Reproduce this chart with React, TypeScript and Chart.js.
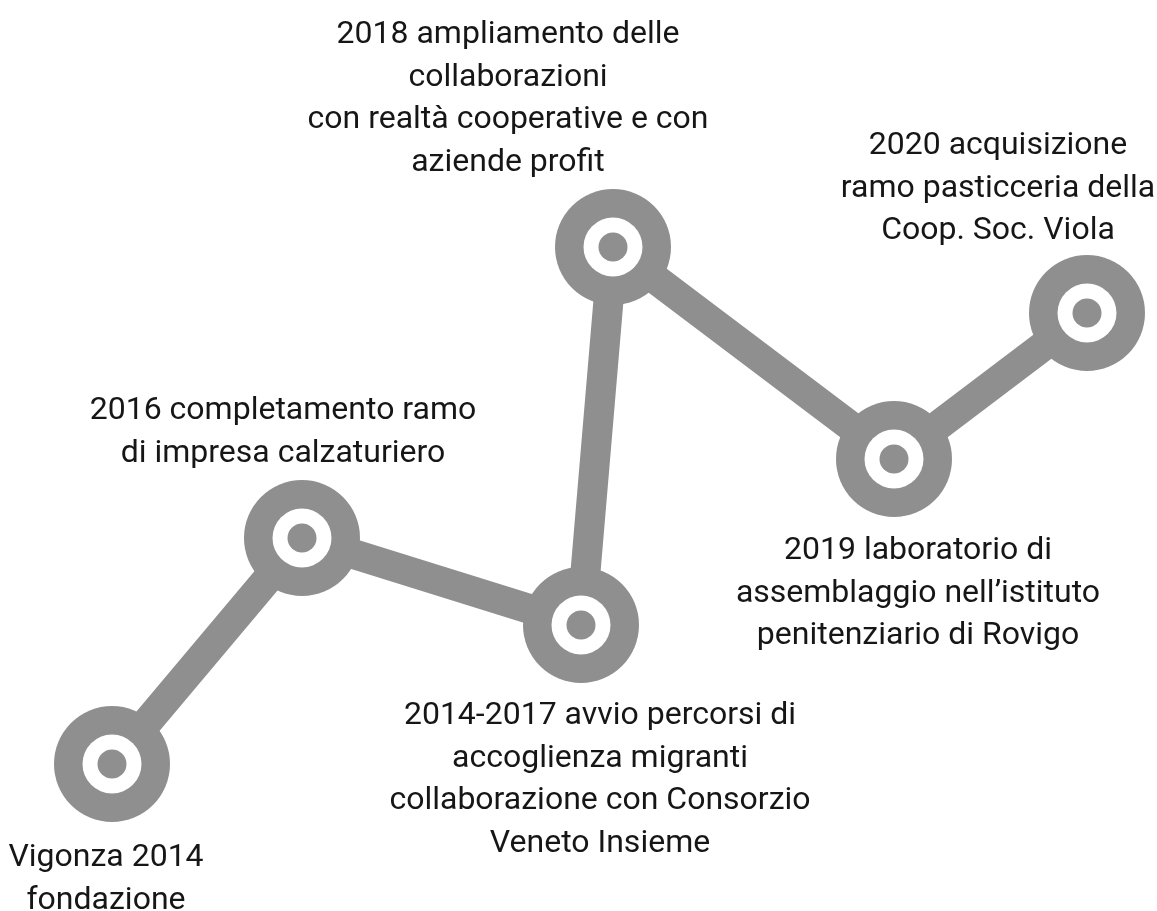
import React, { useEffect, useRef } from "react";
import { Chart, registerables } from "chart.js";

Chart.register(...registerables);

// Timeline milestones
const milestones = [
  ["Vigonza 2014", "fondazione"],
  ["2016 completamento ramo", "di impresa calzaturiero"],
  ["2014-2017 avvio percorsi di", "accoglienza migranti", "collaborazione con Consorzio", "Veneto Insieme"],
  ["2018 ampliamento delle", "collaborazioni", "con realtà cooperative e con", "aziende profit"],
  ["2019 laboratorio di", "assemblaggio nell\u2019istituto", "penitenziario di Rovigo"],
  ["2020 acquisizione", "ramo pasticceria della", "Coop. Soc. Viola"],
];
// Position of each milestone along the path (x) and its height (y, measured from top)
const xValues = [112, 302, 581, 613, 894, 1087];
const yValues = [764, 538, 625, 247, 459, 313];

// label offsets relative to each marker (layout only)
const labelOffsets = [
  [-6, 94],
  [-19, -127],
  [19, 91],
  [-105, -212],
  [24, 92],
  [-89, -167],
];

const GRAY = "#8f8f90";
const W = 1157;
const H = 911;

const labelPlugin = {
  id: "milestoneLabels",
  afterDatasetsDraw(chart: any) {
    const { ctx } = chart;
    const meta = chart.getDatasetMeta(0);
    ctx.save();
    ctx.font = '32px Roboto';
    ctx.fillStyle = "#161616";
    ctx.textAlign = "center";
    ctx.textBaseline = "middle";
    meta.data.forEach((pt: any, i: number) => {
      const [dx, dy] = labelOffsets[i];
      milestones[i].forEach((line, j) => {
        ctx.fillText(line, pt.x + dx, pt.y + dy + j * 42.5);
      });
    });
    ctx.restore();
  },
};

export default function App() {
  const ref = useRef<HTMLCanvasElement>(null);
  useEffect(() => {
    const points = xValues.map((x, i) => ({ x, y: yValues[i] }));
    const chart = new Chart(ref.current!, {
      type: "scatter",
      data: {
        datasets: [
          {
            data: points,
            showLine: true,
            borderColor: GRAY,
            borderWidth: 30,
            pointRadius: 0,
            borderJoinStyle: "round",
            tension: 0,
            order: 3,
            clip: false,
          } as any,
          {
            data: points,
            pointRadius: 58,
            pointBackgroundColor: GRAY,
            pointBorderWidth: 0,
            order: 2,
            clip: false,
          } as any,
          {
            data: points,
            pointRadius: 29.5,
            pointBackgroundColor: "#ffffff",
            pointBorderWidth: 0,
            order: 1,
            clip: false,
          } as any,
          {
            data: points,
            pointRadius: 14.5,
            pointBackgroundColor: GRAY,
            pointBorderWidth: 0,
            order: 0,
            clip: false,
          } as any,
        ],
      },
      options: {
        animation: false,
        responsive: false,
        maintainAspectRatio: false,
        layout: { padding: 0, autoPadding: false },
        plugins: { legend: { display: false }, tooltip: { enabled: false } },
        events: [],
        scales: {
          x: { type: "linear", min: 0, max: W, display: false },
          y: { type: "linear", min: 0, max: H, reverse: true, display: false },
        },
      },
      plugins: [labelPlugin],
    });
    return () => chart.destroy();
  }, []);
  return (
    <div style={{ position: "absolute", left: 0, top: 0, width: W, height: H, background: "#fff" }}>
      <canvas ref={ref} width={W} height={H} style={{ width: W, height: H, display: "block" }} />
    </div>
  );
}
